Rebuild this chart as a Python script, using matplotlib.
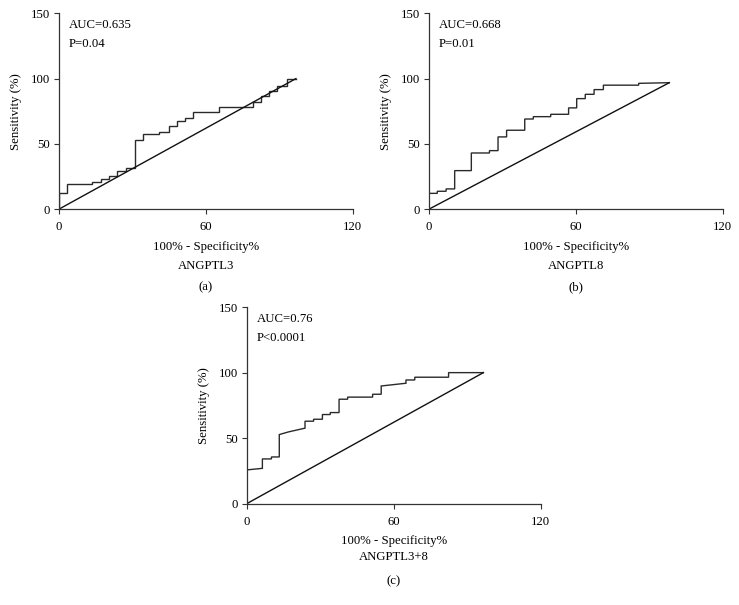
import matplotlib
matplotlib.use("Agg")
import matplotlib.pyplot as plt

plt.rcParams['font.family'] = ['Liberation Serif', 'DejaVu Serif']

# ROC curve vertices (100% - Specificity%, Sensitivity %)
fpr_a = [0, 0, 3.5, 3.5, 13.6, 13.6, 17.1, 17.1, 20.7, 20.7, 23.9, 23.9, 27.5, 27.5,
         31.0, 31.0, 34.3, 34.3, 41.1, 41.1, 44.9, 44.9, 48.2, 48.2, 51.7, 51.7,
         55.0, 55.0, 65.5, 65.5, 79.3, 79.3, 82.7, 82.7, 86.0, 86.0, 89.3, 89.3,
         93.0, 93.0, 96.8]
tpr_a = [0, 12.8, 12.8, 19.1, 19.1, 21.2, 21.2, 23.2, 23.2, 25.3, 25.3, 29.6, 29.6, 31.9,
         31.9, 52.8, 52.8, 57.4, 57.4, 59.2, 59.2, 63.8, 63.8, 67.9, 67.9, 69.9,
         69.9, 74.2, 74.2, 78.3, 78.3, 82.5, 82.5, 86.5, 86.5, 90.3, 90.3, 94.0,
         94.0, 100, 100]
diag_a = ([0, 96.8], [0, 100])

fpr_b = [0, 0, 3.5, 3.5, 7.1, 7.1, 10.6, 10.6, 17.4, 17.4, 24.8, 24.8, 28.3, 28.3,
         31.8, 31.8, 39.2, 39.2, 42.7, 42.7, 49.8, 49.8, 57.1, 57.1, 60.4, 60.4,
         63.9, 63.9, 67.5, 67.5, 71.3, 71.3, 85.7, 85.7, 98.2]
tpr_b = [0, 12.2, 12.2, 13.8, 13.8, 15.6, 15.6, 29.6, 29.6, 43.1, 43.1, 44.9, 44.9, 55.4,
         55.4, 60.5, 60.5, 69.1, 69.1, 70.9, 70.9, 72.7, 72.7, 77.6, 77.6, 84.7,
         84.7, 88.0, 88.0, 91.6, 91.6, 95.0, 95.0, 96.4, 96.9]
diag_b = ([0, 98.2], [0, 96.9])

fpr_c = [0, 0, 6.4, 6.4, 10.1, 10.1, 13.3, 13.3, 17.0, 23.8, 23.8, 27.3, 27.3,
         30.9, 30.9, 34.1, 34.1, 37.7, 37.7, 41.2, 41.2, 51.4, 51.4, 54.9, 54.9,
         65.0, 65.0, 68.6, 68.6, 82.4, 82.4, 96.6]
tpr_c = [0, 25.8, 27.0, 34.2, 34.2, 35.7, 35.7, 52.8, 54.8, 57.7, 63.0, 63.0, 64.5,
         64.5, 68.1, 68.1, 69.6, 69.6, 79.8, 79.8, 81.4, 81.4, 83.6, 83.6, 89.9,
         92.0, 94.5, 94.5, 96.6, 96.6, 100.1, 100.1]
diag_c = ([0, 96.6], [0, 100.1])

auc_texts = ["AUC=0.635", "AUC=0.668", "AUC=0.76"]
p_texts = ["P=0.04", "P=0.01", "P<0.0001"]
markers_names = ["ANGPTL3", "ANGPTL8", "ANGPTL3+8"]
panel_labels = ["(a)", "(b)", "(c)"]
xticks = [0, 60, 120]
yticks = [0, 50, 100, 150]

W, H = 739, 605
fig = plt.figure(figsize=(W / 100, H / 100), dpi=100)

# axes boxes in pixels: left, right, top, bottom
boxes = [(58.7, 352.7, 13.3, 209.3), (428.7, 722.7, 13.3, 209.3), (246.7, 540.7, 307.3, 503.7)]
curves = [(fpr_a, tpr_a, diag_a), (fpr_b, tpr_b, diag_b), (fpr_c, tpr_c, diag_c)]
label_y = [(247, 266, 287), (247, 266, 287), (541, 557, 581)]

fs = 9.2
line_col = '#2a2a2a'
for i, (box, cur) in enumerate(zip(boxes, curves)):
    l, r, t, b = box
    ax = fig.add_axes([l / W, 1 - b / H, (r - l) / W, (b - t) / H])
    fx, ty, dg = cur
    ax.plot(fx, ty, color=line_col, lw=1.0, solid_joinstyle='miter')
    ax.plot(dg[0], dg[1], color='#111111', lw=1.0)
    ax.set_xlim(0, 120)
    ax.set_ylim(0, 150)
    ax.set_xticks(xticks)
    ax.set_yticks(yticks)
    ax.tick_params(direction='out', length=3.5, width=0.8, labelsize=fs, color='#333333')
    ax.tick_params(axis='x', pad=5)
    ax.tick_params(axis='y', pad=3)
    for s in ['top', 'right']:
        ax.spines[s].set_visible(False)
    for s in ['left', 'bottom']:
        ax.spines[s].set_linewidth(0.9)
        ax.spines[s].set_color('#333333')
    ax.set_ylabel("Sensitivity (%)", fontsize=fs, labelpad=6)
    ax.text(4, 141, auc_texts[i], fontsize=fs, va='center', ha='left')
    ax.text(4, 126.5, p_texts[i], fontsize=fs, va='center', ha='left')
    cx = (l + r) / 2 / W
    ly = label_y[i]
    fig.text(cx, 1 - ly[0] / H, "100% - Specificity%", fontsize=fs, ha='center', va='center')
    fig.text(cx, 1 - ly[1] / H, markers_names[i], fontsize=fs, ha='center', va='center')
    fig.text(cx, 1 - ly[2] / H, panel_labels[i], fontsize=fs, ha='center', va='center')

fig.savefig("out.png", dpi=100)
